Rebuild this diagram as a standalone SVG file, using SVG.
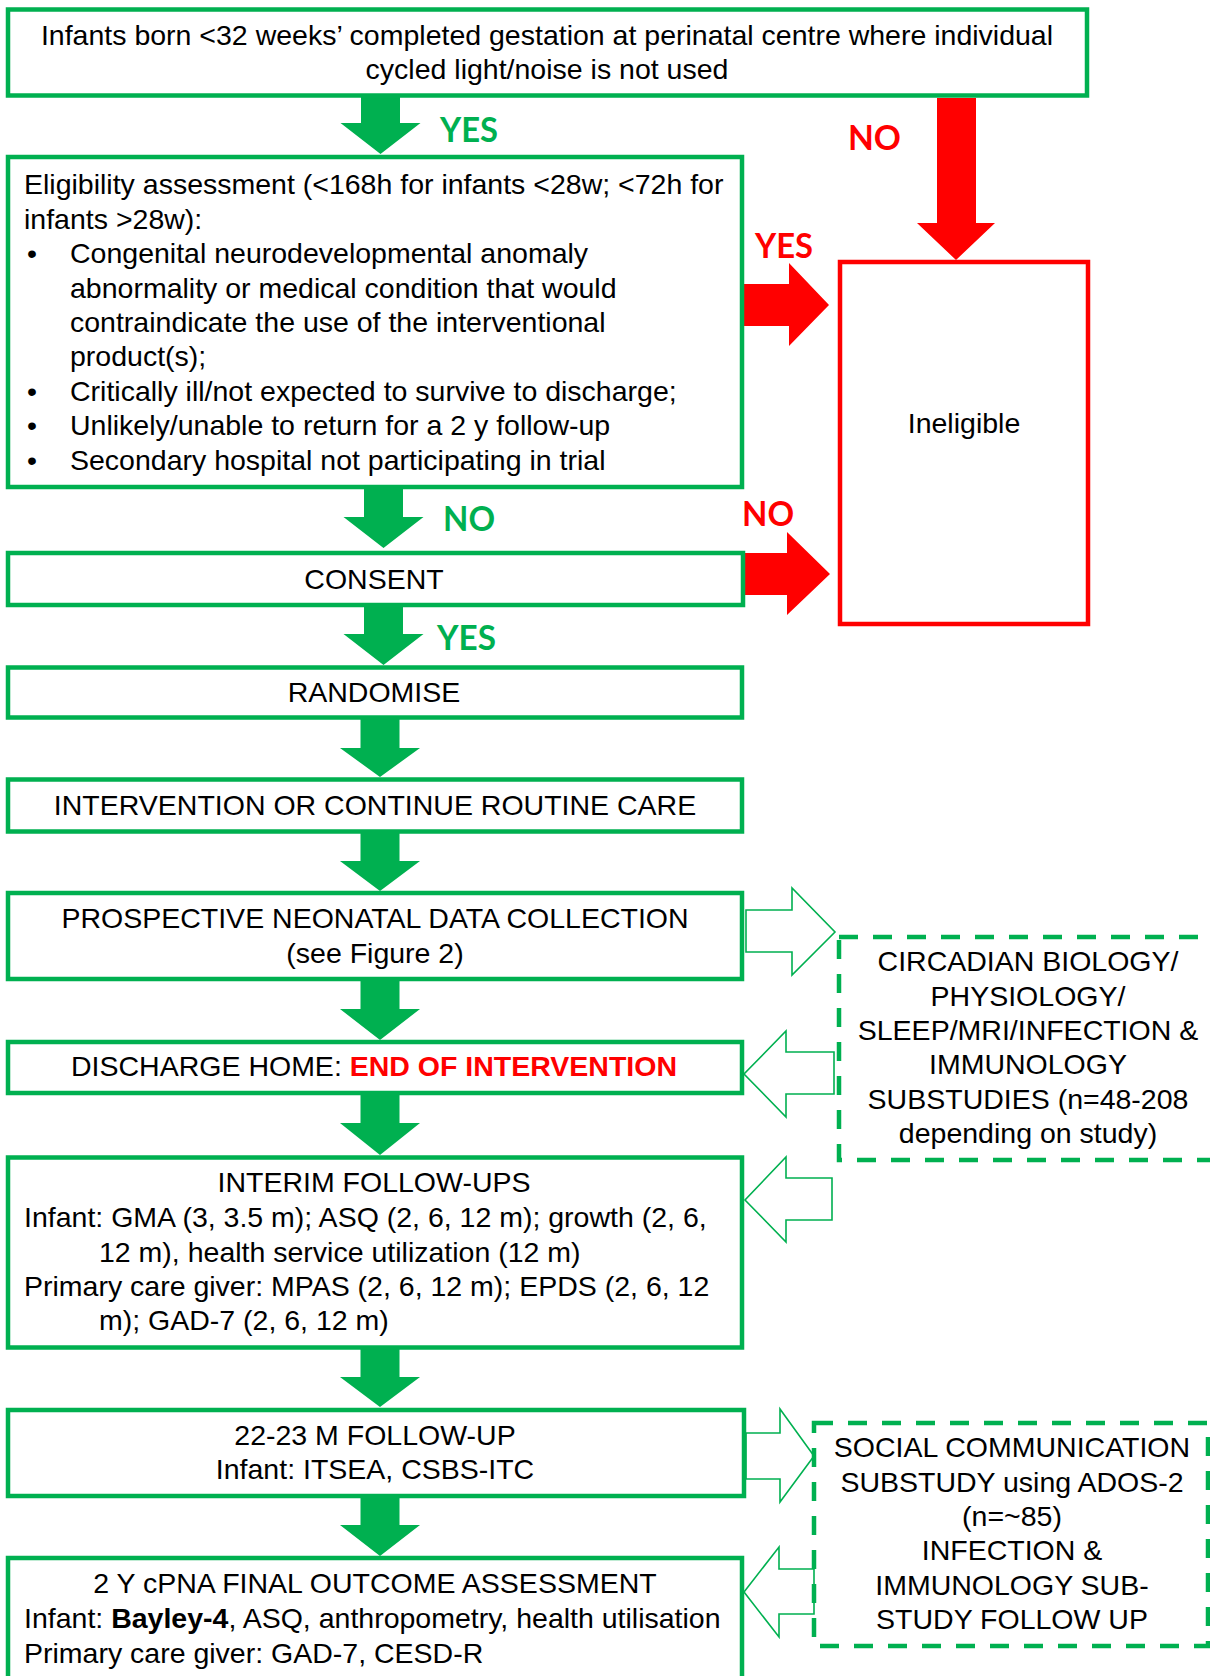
<svg xmlns="http://www.w3.org/2000/svg" width="1210" height="1676" viewBox="0 0 1210 1676">
<style>
  .box{fill:#fff;stroke:#00B050;stroke-width:4.5}
  .rbox{fill:#fff;stroke:#FF0000;stroke-width:4.5}
  .dbox{fill:none;stroke:#00B050;stroke-width:4.5;stroke-dasharray:19 15}
  .ga{fill:#00B050}
  .ra{fill:#FF0000}
  .ha{fill:#fff;stroke:#00B050;stroke-width:1.6;stroke-linejoin:miter}
  text{font-family:"Liberation Sans",Arial,sans-serif;font-size:28.5px;fill:#000}
  .c{text-anchor:middle}
  .lbl{font-family:Lato,"Liberation Sans",sans-serif;font-weight:bold;font-size:35px}
  .g{fill:#00B050}
  .r{fill:#FF0000}
</style>

<g id="connectors">
  <polygon class="ga" points="361,96 400,96 400,123 420.5,123 380.5,154 340.5,123 361,123"/>
  <polygon class="ga" points="364,487 403,487 403,517 423.5,517 383.5,548 343.5,517 364,517"/>
  <polygon class="ga" points="364,605 403,605 403,634 423.5,634 383.5,665 343.5,634 364,634"/>
  <polygon class="ga" points="360.5,718 399.5,718 399.5,748 420,748 380,777 340,748 360.5,748"/>
  <polygon class="ga" points="360.5,832 399.5,832 399.5,861 420,861 380,891 340,861 360.5,861"/>
  <polygon class="ga" points="360.5,979 399.5,979 399.5,1009 420,1009 380,1040 340,1009 360.5,1009"/>
  <polygon class="ga" points="360.5,1093 399.5,1093 399.5,1123 420,1123 380,1155 340,1123 360.5,1123"/>
  <polygon class="ga" points="360.5,1348 399.5,1348 399.5,1377 420,1377 380,1407 340,1377 360.5,1377"/>
  <polygon class="ga" points="360.5,1497 399.5,1497 399.5,1525 420,1525 380,1556 340,1525 360.5,1525"/>

  <polygon class="ra" points="937,98 976,98 976,223 995,223 956,260 917,223 937,223"/>
  <polygon class="ra" points="742,284 789,284 789,263 829,305 789,346 789,326 742,326"/>
  <polygon class="ra" points="743,553 787,553 787,532 830,574 787,615 787,595 743,595"/>

  <polygon class="ha" points="746,910 792,910 792,888 835,932 792,975 792,952 746,952"/>
  <polygon class="ha" points="834,1052 786,1052 786,1031 744,1074 786,1117 786,1094 834,1094"/>
  <polygon class="ha" points="832,1178 786,1178 786,1157 745,1200 786,1242 786,1220 832,1220"/>
  <polygon class="ha" points="746,1433 780,1433 780,1409 814,1456 780,1502 780,1479 746,1479"/>
  <polygon class="ha" points="814,1569 779,1569 779,1547 744,1592 779,1637 779,1614 814,1614"/>

  <text class="lbl g" x="440" y="142" textLength="58" lengthAdjust="spacingAndGlyphs">YES</text>
  <text class="lbl r" x="848" y="150" textLength="53" lengthAdjust="spacingAndGlyphs">NO</text>
  <text class="lbl r" x="755" y="258" textLength="58" lengthAdjust="spacingAndGlyphs">YES</text>
  <text class="lbl g" x="443" y="531" textLength="52" lengthAdjust="spacingAndGlyphs">NO</text>
  <text class="lbl r" x="742" y="526" textLength="52" lengthAdjust="spacingAndGlyphs">NO</text>
  <text class="lbl g" x="437" y="650" textLength="59" lengthAdjust="spacingAndGlyphs">YES</text>
</g>

<g id="n-start">
  <rect class="box" x="8" y="9.5" width="1079" height="86"/>
  <text class="c" x="547" y="45">Infants born &lt;32 weeks’ completed gestation at perinatal centre where individual</text>
  <text class="c" x="547" y="79">cycled light/noise is not used</text>
</g>

<g id="n-eligibility">
  <rect class="box" x="8" y="157" width="734" height="330"/>
  <text x="24" y="194">Eligibility assessment (&lt;168h for infants &lt;28w; &lt;72h for</text>
  <text x="24" y="228.5">infants &gt;28w):</text>
  <text x="27" y="263">•</text>
  <text x="70" y="263">Congenital neurodevelopmental anomaly</text>
  <text x="70" y="297.5">abnormality or medical condition that would</text>
  <text x="70" y="332">contraindicate the use of the interventional</text>
  <text x="70" y="366">product(s);</text>
  <text x="27" y="400.5">•</text>
  <text x="70" y="400.5">Critically ill/not expected to survive to discharge;</text>
  <text x="27" y="435">•</text>
  <text x="70" y="435">Unlikely/unable to return for a 2 y follow-up</text>
  <text x="27" y="469.5">•</text>
  <text x="70" y="469.5">Secondary hospital not participating in trial</text>
</g>

<g id="n-ineligible">
  <rect class="rbox" x="840" y="262" width="248" height="362"/>
  <text class="c" x="964" y="433">Ineligible</text>
</g>

<g id="n-consent">
  <rect class="box" x="8" y="553" width="735" height="52"/>
  <text class="c" x="374" y="589">CONSENT</text>
</g>

<g id="n-randomise">
  <rect class="box" x="8" y="667.5" width="734" height="50"/>
  <text class="c" x="374" y="702">RANDOMISE</text>
</g>

<g id="n-intervention">
  <rect class="box" x="8" y="779.5" width="734" height="52"/>
  <text class="c" x="375" y="815">INTERVENTION OR CONTINUE ROUTINE CARE</text>
</g>

<g id="n-prospective">
  <rect class="box" x="8" y="893" width="734" height="86"/>
  <text class="c" x="375" y="928">PROSPECTIVE NEONATAL DATA COLLECTION</text>
  <text class="c" x="375" y="963">(see Figure 2)</text>
</g>

<g id="n-discharge">
  <rect class="box" x="8" y="1042" width="734" height="51"/>
  <text class="c" x="374" y="1076">DISCHARGE HOME: <tspan font-weight="bold" fill="#FF0000">END OF INTERVENTION</tspan></text>
</g>

<g id="n-interim">
  <rect class="box" x="8" y="1157.5" width="734" height="190"/>
  <text class="c" x="374" y="1192">INTERIM FOLLOW-UPS</text>
  <text x="24" y="1227">Infant: GMA (3, 3.5 m); ASQ (2, 6, 12 m); growth (2, 6,</text>
  <text x="99" y="1262">12 m), health service utilization (12 m)</text>
  <text x="24" y="1296">Primary care giver: MPAS (2, 6, 12 m); EPDS (2, 6, 12</text>
  <text x="99" y="1330">m); GAD-7 (2, 6, 12 m)</text>
</g>

<g id="n-substudies1">
  <rect class="dbox" x="839" y="937" width="400" height="223"/>
  <text class="c" x="1028" y="971">CIRCADIAN BIOLOGY/</text>
  <text class="c" x="1028" y="1005.5">PHYSIOLOGY/</text>
  <text class="c" x="1028" y="1040">SLEEP/MRI/INFECTION &amp;</text>
  <text class="c" x="1028" y="1074">IMMUNOLOGY</text>
  <text class="c" x="1028" y="1108.5">SUBSTUDIES (n=48-208</text>
  <text class="c" x="1028" y="1143">depending on study)</text>
</g>

<g id="n-followup22">
  <rect class="box" x="8" y="1410" width="736" height="86"/>
  <text class="c" x="375" y="1445">22-23 M FOLLOW-UP</text>
  <text class="c" x="375" y="1479">Infant: ITSEA, CSBS-ITC</text>
</g>

<g id="n-final">
  <rect class="box" x="8" y="1558" width="734" height="140"/>
  <text class="c" x="375" y="1593">2 Y cPNA FINAL OUTCOME ASSESSMENT</text>
  <text x="24" y="1628">Infant: <tspan font-weight="bold">Bayley-4</tspan>, ASQ, anthropometry, health utilisation</text>
  <text x="24" y="1663">Primary care giver: GAD-7, CESD-R</text>
</g>

<g id="n-substudies2">
  <rect class="dbox" x="814" y="1423" width="394" height="223"/>
  <text class="c" x="1012" y="1457">SOCIAL COMMUNICATION</text>
  <text class="c" x="1012" y="1492">SUBSTUDY using ADOS-2</text>
  <text class="c" x="1012" y="1526">(n=~85)</text>
  <text class="c" x="1012" y="1560">INFECTION &amp;</text>
  <text class="c" x="1012" y="1595">IMMUNOLOGY SUB-</text>
  <text class="c" x="1012" y="1629">STUDY FOLLOW UP</text>
</g>
</svg>
